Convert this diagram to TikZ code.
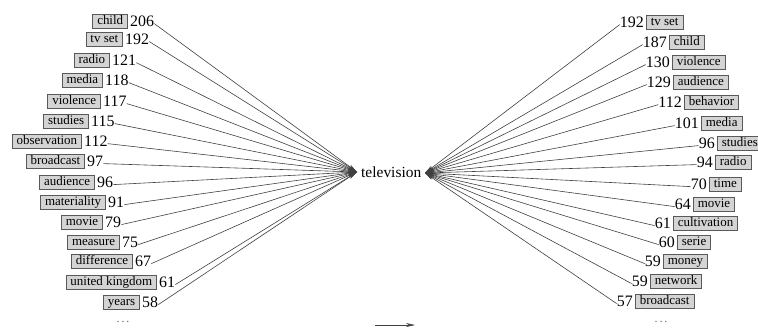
\documentclass[tikz,border=0pt]{standalone}
\usepackage{fontspec}
\setmainfont{Liberation Serif}
\usetikzlibrary{arrows.meta,calc}
\begin{document}
\begin{tikzpicture}[x=1bp,y=-1bp,
  wbox/.style={draw=black!65, fill=black!17, line width=0.7bp, inner xsep=4.5bp, inner ysep=1.2bp,
    text height=9bp, text depth=2.6bp, font=\fontsize{13}{15}\selectfont},
  numl/.style={inner sep=0bp, font=\fontsize{16}{18}\selectfont, anchor=west},
  numr/.style={inner sep=0bp, font=\fontsize{16}{18}\selectfont, anchor=east},
  link/.style={draw=black!75, line width=0.6bp, -{Stealth[length=9bp,width=4bp]}},
  dots/.style={inner sep=0bp, font=\fontsize{12}{14}\selectfont, text=black!60}]
\useasboundingbox (0,0) rectangle (758,328);
% centre
\node[inner sep=0bp, font=\fontsize{15.5}{17}\selectfont, anchor=west] (tv) at (361,172) {television};
\coordinate (L) at (357,172);
\coordinate (R) at (425,173);
% left side
\foreach \i/\lab/\num/\xe/\y in {
  1/child/206/128/21, 2/tv set/192/123/39, 3/radio/121/110/60, 4/media/118/103/80,
  5/violence/117/101/101, 6/studies/115/89/121, 7/observation/112/82/141,
  8/broadcast/97/85/161, 9/audience/96/95/182, 10/materiality/91/106/202,
  11/movie/79/103/222, 12/measure/75/120/242, 13/difference/67/133/261,
  14/united kingdom/61/157/282, 15/years/58/140/302}{
  \node[wbox, anchor=east] (lb\i) at (\xe,\y) {\lab};
  \node[numl] (ln\i) at ([xshift=2bp]lb\i.east) {\num};
  \draw[link] ($(ln\i.east)!0.5!(ln\i.base east)$) -- (L);
}
% right side
\foreach \i/\lab/\num/\xw/\y in {
  1/tv set/192/646/22, 2/child/187/669/42, 3/violence/130/672/62, 4/audience/129/673/82,
  5/behavior/112/684/102, 6/media/101/701/123, 7/studies/96/717/143, 8/radio/94/715/162,
  9/time/70/709/184, 10/movie/64/693/204, 11/cultivation/61/673/223, 12/serie/60/677/242,
  13/money/59/663/261, 14/network/59/650/281, 15/broadcast/57/635/301}{
  \node[wbox, anchor=west] (rb\i) at (\xw,\y) {\lab};
  \node[numr] (rn\i) at ([xshift=-2bp]rb\i.west) {\num};
  \draw[link] ($(rn\i.west)!0.5!(rn\i.base west)$) -- (R);
}
\node[dots] (dl) at (123,322) {.\kern2bp.\kern2bp.};
\node[dots] (dr) at (661,322) {.\kern2bp.\kern2bp.};
\coordinate (a1) at (375,325);
\coordinate (a2) at (415,325);
\draw[link] (a1) -- (a2);
\end{tikzpicture}
\end{document}
